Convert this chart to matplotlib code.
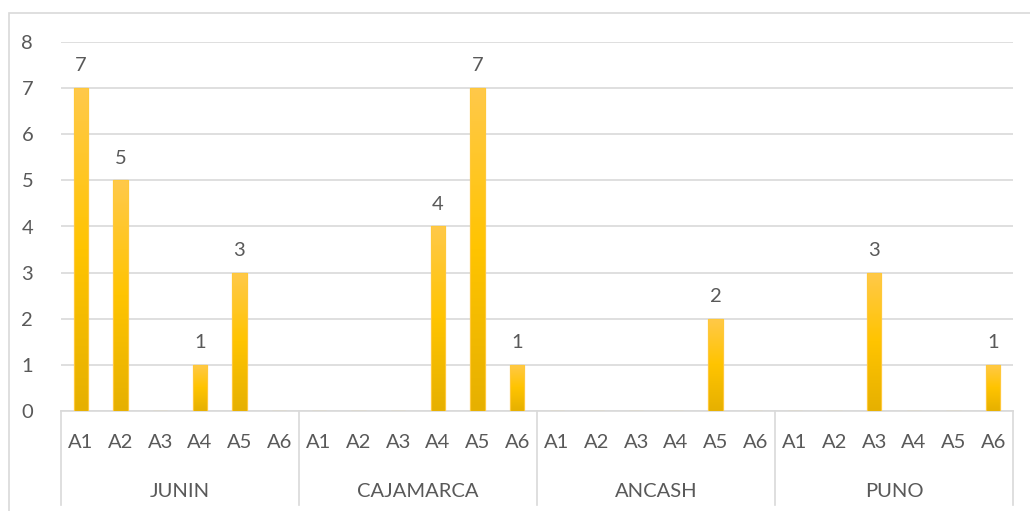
import numpy as np
import matplotlib
matplotlib.use("Agg")
import matplotlib.pyplot as plt
from matplotlib.colors import LinearSegmentedColormap
from matplotlib.patches import Rectangle
import matplotlib.transforms as mtransforms

# data
regions = ["JUNIN", "CAJAMARCA", "ANCASH", "PUNO"]
subcats = ["A1", "A2", "A3", "A4", "A5", "A6"]
junin = [7, 5, 0, 1, 3, 0]
cajamarca = [0, 0, 0, 4, 7, 1]
ancash = [0, 0, 0, 0, 2, 0]
puno = [0, 0, 3, 0, 0, 1]

values = junin + cajamarca + ancash + puno
labels = subcats * len(regions)
x = np.arange(len(values))

plt.rcParams['font.family'] = ['Lato', 'DejaVu Sans']
txt_col = '#595959'
grid_col = '#D9D9D9'
fs = 14.5

fig = plt.figure(figsize=(10.30, 5.11), dpi=100)
W, H = 1030, 511
ax = fig.add_axes([61 / W, (H - 411) / H, (1013 - 61) / W, (411 - 42) / H])

# outer chart border (left and top only visible)
fig.add_artist(Rectangle((9 / W, -0.1), 1.2, (H - 13) / H + 0.1,
                         transform=fig.transFigure, fill=False,
                         edgecolor=grid_col, linewidth=1.2))

bars = ax.bar(x, values, width=0.36, color='#FFC000', edgecolor='#FFC83A',
              linewidth=0.8, zorder=3)

# gradient fill like excel
cmap = LinearSegmentedColormap.from_list('gold', ['#E6B000', '#FFC400', '#FFC94A'])
grad = np.linspace(0, 1, 256).reshape(-1, 1)
for b, v in zip(bars, values):
    if v == 0:
        continue
    bx, by = b.get_x(), b.get_y()
    im = ax.imshow(grad, cmap=cmap, origin='lower', aspect='auto',
                   extent=[bx, bx + b.get_width(), by, by + b.get_height()],
                   zorder=3.5)
    im.set_clip_path(b)
    ax.add_patch(Rectangle((bx, by), b.get_width(), b.get_height(),
                           fill=False, edgecolor='#FFC83A', linewidth=0.8, zorder=4))

for xi, v in zip(x, values):
    if v > 0:
        ax.annotate(str(v), (xi, v), xytext=(0, 12), textcoords='offset points',
                    ha='center', va='baseline', fontsize=fs, color=txt_col)

ax.set_xlim(-0.5, len(values) - 0.5)
ax.set_ylim(0, 8)
ax.set_yticks(range(0, 9))
ax.yaxis.grid(True, color=grid_col, linewidth=1.2, zorder=0)
ax.set_axisbelow(True)
ax.tick_params(axis='y', length=0, pad=20, labelsize=fs, labelcolor=txt_col)
ax.set_xticks([])
for s in ['top', 'right', 'left']:
    ax.spines[s].set_visible(False)
ax.spines['bottom'].set_color(grid_col)
ax.spines['bottom'].set_linewidth(1.2)

# multi-level category axis
trans = mtransforms.blended_transform_factory(ax.transData, ax.transAxes)
ah = 411 - 42
for xi, lab in zip(x, labels):
    ax.text(xi, -31 / ah, lab, transform=trans, ha='center', va='center',
            fontsize=fs, color=txt_col)
n = len(subcats)
for i, r in enumerate(regions):
    ax.text(i * n + (n - 1) / 2, -80 / ah, r, transform=trans, ha='center',
            va='center', fontsize=fs, color=txt_col)
for i in range(len(regions) + 1):
    ax.plot([i * n - 0.5, i * n - 0.5], [0, -94 / ah], transform=trans,
            color=grid_col, linewidth=1.2, clip_on=False)

fig.savefig('out.png', dpi=100)
